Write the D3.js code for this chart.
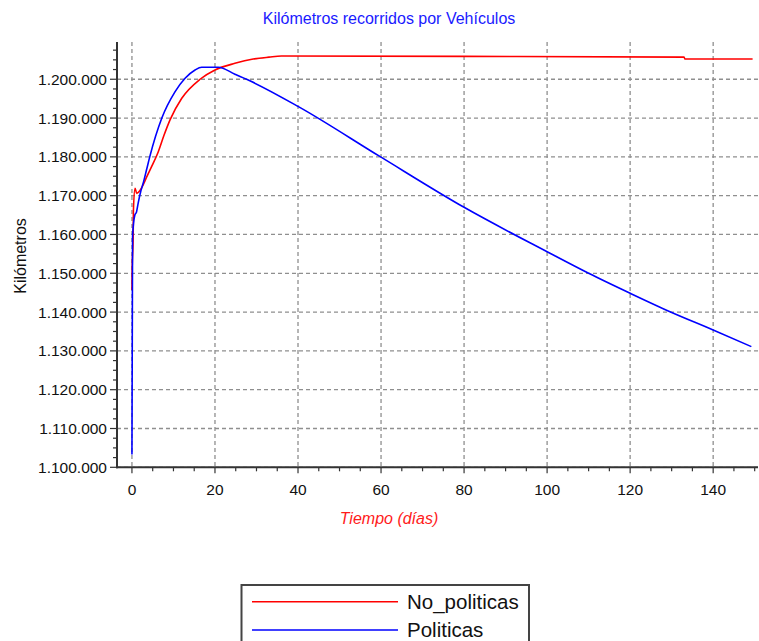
<!DOCTYPE html>
<html>
<head>
<meta charset="utf-8">
<script src="https://cdn.jsdelivr.net/npm/d3@7"></script>
<style>
  body { margin: 0; background: #fff; }
  text { font-family: "Liberation Sans", Arial, sans-serif; }
</style>
</head>
<body>
<svg id="chart" width="759" height="641"></svg>
<script>
// series (tiempo in dias, km)
var tNoPol = [0, 0.05, 0.3, 0.35, 0.75, 1.15, 1.9, 2.7, 3.5, 4.7, 6.3, 7.7, 9.2, 12, 16.4, 20, 24.8, 29.2, 33, 36, 80, 133, 133.2, 149.5];
var kmNoPol = [1145700, 1150800, 1159500, 1166000, 1171900, 1170600, 1171300, 1172800, 1174700, 1177400, 1181200, 1185500, 1189600, 1195100, 1200000, 1202400, 1204100, 1205200, 1205700, 1206000, 1205900, 1205700, 1205200, 1205200];
var tPol = [0, 0.15, 0.7, 1.1, 1.5, 2.1, 2.7, 3.5, 4.3, 7.2, 10.4, 12.8, 15.2, 16.8, 20.8, 24.8, 28.4, 40.1, 59.8, 80, 100, 110, 120, 129.6, 140, 149.2];
var kmPol = [1103300, 1159500, 1165000, 1165800, 1168100, 1171000, 1173200, 1176600, 1180050, 1190000, 1196800, 1200250, 1202400, 1203100, 1203100, 1201300, 1199600, 1192950, 1180050, 1167000, 1155550, 1150000, 1144850, 1140100, 1135400, 1131100];
var xTicks = [0, 20, 40, 60, 80, 100, 120, 140];
var yTicks = [1100000, 1110000, 1120000, 1130000, 1140000, 1150000, 1160000, 1170000, 1180000, 1190000, 1200000];
var seriesNames = ["No_politicas", "Politicas"];
var seriesColors = ["#ff0000", "#0000ff"];

var svg = d3.select("#chart");
var pLeft = 117, pRight = 758, pTop = 42, pBottom = 467.3;

var x = d3.scaleLinear().domain([-3.6, 150.8]).range([pLeft, pRight]);
var y = d3.scaleLinear().domain([1100000, 1209600]).range([pBottom, pTop]);

var loc = d3.formatLocale({decimal: ",", thousands: ".", grouping: [3], currency: ["", ""]});
var fmt = loc.format(",d");

// grid
var grid = svg.append("g").attr("stroke", "#8f8f8f").attr("stroke-width", 1.3).attr("stroke-dasharray", "4,3");
grid.selectAll(".gx").data(xTicks).enter().append("line")
  .attr("x1", function(d) { return x(d) }).attr("x2", function(d) { return x(d) })
  .attr("y1", pTop).attr("y2", pBottom);
grid.selectAll(".gy").data(yTicks).enter().append("line")
  .attr("x1", pLeft).attr("x2", pRight)
  .attr("y1", function(d) { return y(d) }).attr("y2", function(d) { return y(d) });

// minor ticks
var minorX = d3.range(0, 151, 5);
var minorY = d3.range(1100000, 1209600, 2500);
var tk = svg.append("g").attr("stroke", "#333").attr("stroke-width", 1.2);
tk.selectAll(".mx").data(minorX).enter().append("line")
  .attr("x1", function(d) { return x(d) }).attr("x2", function(d) { return x(d) })
  .attr("y1", pBottom).attr("y2", function(d) { return d % 20 == 0 ? pBottom + 6 : pBottom + 4 });
tk.selectAll(".my").data(minorY).enter().append("line")
  .attr("y1", function(d) { return y(d) }).attr("y2", function(d) { return y(d) })
  .attr("x1", pLeft).attr("x2", function(d) { return d % 10000 == 0 ? pLeft - 7 : pLeft - 4 });

// axes lines
svg.append("line").attr("x1", pLeft).attr("x2", pLeft).attr("y1", pTop).attr("y2", pBottom + 1)
  .attr("stroke", "#333").attr("stroke-width", 2);
svg.append("line").attr("x1", pLeft - 1).attr("x2", pRight).attr("y1", pBottom).attr("y2", pBottom)
  .attr("stroke", "#333").attr("stroke-width", 2);

// tick labels
svg.selectAll(".ylab").data(yTicks).enter().append("text")
  .attr("x", pLeft - 10).attr("y", function(d) { return y(d) + 5.5 })
  .attr("text-anchor", "end").attr("font-size", 15.5).attr("fill", "#111")
  .text(function(d) { return fmt(d) });
svg.selectAll(".xlab").data(xTicks).enter().append("text")
  .attr("x", function(d) { return x(d) }).attr("y", pBottom + 28)
  .attr("text-anchor", "middle").attr("font-size", 15.5).attr("fill", "#111")
  .text(function(d) { return d });

// lines
svg.append("clipPath").attr("id", "clip").append("rect")
  .attr("x", pLeft).attr("y", pTop).attr("width", pRight - pLeft).attr("height", pBottom - pTop);
var line = d3.line().curve(d3.curveMonotoneX)
  .x(function(d) { return x(d[0]) }).y(function(d) { return y(d[1]) });
var dataSets = [d3.zip(tNoPol, kmNoPol), d3.zip(tPol, kmPol)];
svg.append("g").attr("clip-path", "url(#clip)").selectAll("path").data(dataSets).enter().append("path")
  .attr("d", line).attr("fill", "none")
  .attr("stroke", function(d, i) { return seriesColors[i] })
  .attr("stroke-width", 1.6);

// titles
svg.append("text").attr("x", 389).attr("y", 24).attr("text-anchor", "middle")
  .attr("font-size", 16).attr("fill", "#1a1aff").text("Kilómetros recorridos por Vehículos");
svg.append("text").attr("transform", "translate(26,256) rotate(-90)").attr("text-anchor", "middle")
  .attr("font-size", 16).attr("fill", "#111").text("Kilómetros");
svg.append("text").attr("x", 389).attr("y", 524).attr("text-anchor", "middle")
  .attr("font-size", 16).attr("font-style", "italic").attr("fill", "#ff1a1a").text("Tiempo (días)");

// legend
var lg = svg.append("g");
lg.append("rect").attr("x", 241.5).attr("y", 585).attr("width", 287.5).attr("height", 80)
  .attr("fill", "#fff").attr("stroke", "#444").attr("stroke-width", 2);
var items = lg.selectAll(".it").data(seriesNames).enter().append("g")
  .attr("transform", function(d, i) { return "translate(0," + (601.7 + i * 28.3) + ")" });
items.append("line").attr("x1", 252).attr("x2", 398).attr("y1", 0).attr("y2", 0)
  .attr("stroke", function(d, i) { return seriesColors[i] }).attr("stroke-width", 1.6);
items.append("text").attr("x", 407).attr("y", 7).attr("font-size", 20.5).attr("fill", "#111")
  .text(function(d) { return d });
</script>
</body>
</html>
